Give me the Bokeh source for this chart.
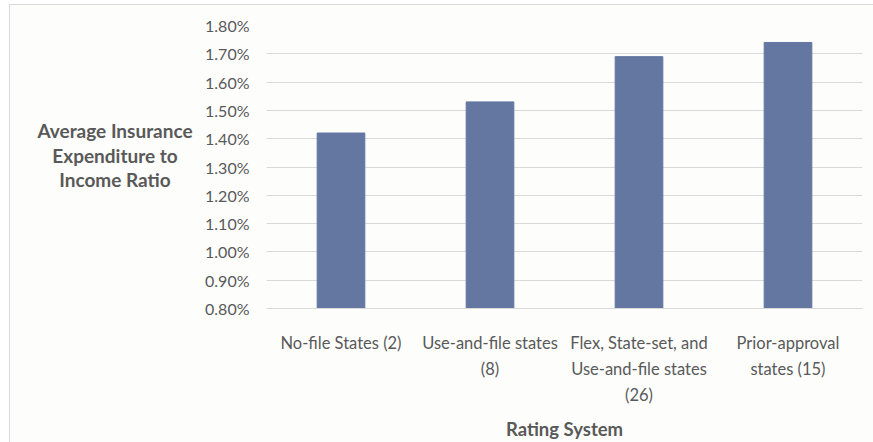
from bokeh.plotting import figure
from bokeh.layouts import row
from bokeh.models import ColumnDataSource, FixedTicker, NumeralTickFormatter, Div
from bokeh.embed import file_html
from bokeh.resources import INLINE

# Rating system categories and average insurance expenditure-to-income ratio
categories = [
    "No-file States (2)",
    "Use-and-file states (8)",
    "Flex, State-set, and Use-and-file states (26)",
    "Prior-approval states (15)",
]
tick_labels = [
    "No-file States (2)",
    "Use-and-file states\n(8)",
    "Flex, State-set, and\nUse-and-file states\n(26)",
    "Prior-approval\nstates (15)",
]
ratios = [0.0142, 0.0153, 0.0169, 0.0174]
y_ticks = [0.008, 0.009, 0.010, 0.011, 0.012, 0.013, 0.014, 0.015, 0.016, 0.017, 0.018]
y_title_lines = ["Average Insurance", "Expenditure to", "Income Ratio"]
x_title = "Rating System"

TEXT = "#595959"
GRID = "#d9d9d9"
BAR = "#6377a1"
BG = "#fdfdfc"
FONT = "Lato"

# chart box sits 9px in from the left and 4px down from the top, with a thin border
OFF_L, OFF_T, BW = 9, 4, 1
TOTAL_W, TOTAL_H = 873 - OFF_L - BW, 442 - OFF_T - BW
TITLE_W = 190                      # side column holding the horizontal y-axis title
W, H = TOTAL_W - TITLE_W, TOTAL_H
FRAME_L = 266 - OFF_L - BW - TITLE_W
FRAME_R, FRAME_T, FRAME_B = 11, 25 - OFF_T - BW, 134

positions = list(range(len(categories)))
source = ColumnDataSource(data=dict(x=positions, ratio=ratios, category=categories))

p = figure(
    width=W, height=H,
    x_range=(-0.5, len(categories) - 0.5), y_range=(0.008, 0.018),
    output_backend="svg", toolbar_location=None,
    min_border_left=FRAME_L, min_border_right=FRAME_R,
    min_border_top=FRAME_T, min_border_bottom=FRAME_B,
    background_fill_color=BG, border_fill_color=BG,
    outline_line_color=None,
)

p.vbar(x="x", top="ratio", bottom=0.008, width=0.32, source=source,
       fill_color=BAR, line_color=BAR)

# y axis
p.yaxis.ticker = FixedTicker(ticks=y_ticks)
p.yaxis.formatter = NumeralTickFormatter(format="0.00%")
p.yaxis.axis_line_color = None
p.yaxis.major_tick_line_color = None
p.yaxis.minor_tick_line_color = None
p.yaxis.major_tick_out = 0
p.yaxis.major_tick_in = 0
p.yaxis.major_label_standoff = 17
p.yaxis.major_label_text_font = FONT
p.yaxis.major_label_text_font_size = "16px"
p.yaxis.major_label_text_color = TEXT

p.ygrid.grid_line_color = GRID
p.ygrid.ticker = FixedTicker(ticks=y_ticks)
p.xgrid.grid_line_color = None

# x axis
p.xaxis.ticker = FixedTicker(ticks=positions)
p.xaxis.axis_line_color = GRID
p.xaxis.major_tick_line_color = None
p.xaxis.minor_tick_line_color = None
p.xaxis.major_tick_out = 0
p.xaxis.major_tick_in = 0
p.xaxis.major_label_overrides = {i: t for i, t in zip(positions, tick_labels)}
p.xaxis.major_label_standoff = 24
p.xaxis.major_label_text_font = FONT
p.xaxis.major_label_text_font_size = "16.5px"
p.xaxis.major_label_text_color = TEXT
p.xaxis.major_label_text_line_height = 1.3
p.xaxis.axis_label = x_title
p.xaxis.axis_label_standoff = 10
p.xaxis.axis_label_text_font = FONT
p.xaxis.axis_label_text_font_size = "18.5px"
p.xaxis.axis_label_text_font_style = "bold"
p.xaxis.axis_label_text_color = TEXT

# horizontal, centred y-axis title in its own column
title_html = (
    f'<div style="box-sizing:border-box; text-align:center; white-space:nowrap; '
    f'font-family:{FONT}; font-weight:bold; font-size:19px; line-height:24.5px; '
    f'color:{TEXT}; width:{TITLE_W}px; padding-left:20px; padding-top:114px;">'
    + "<br>".join(y_title_lines)
    + "</div>"
)
y_title = Div(text=title_html, width=TITLE_W, height=H,
              styles={"background-color": BG, "margin": "0", "padding": "0"})

layout = row(
    y_title, p, spacing=0,
    styles={
        "margin-left": f"{OFF_L}px",
        "margin-top": f"{OFF_T}px",
        "border-left": f"{BW}px solid {GRID}",
        "border-top": f"{BW}px solid {GRID}",
        "background-color": BG,
    },
)

open("out.html", "w").write(file_html(layout, INLINE))
